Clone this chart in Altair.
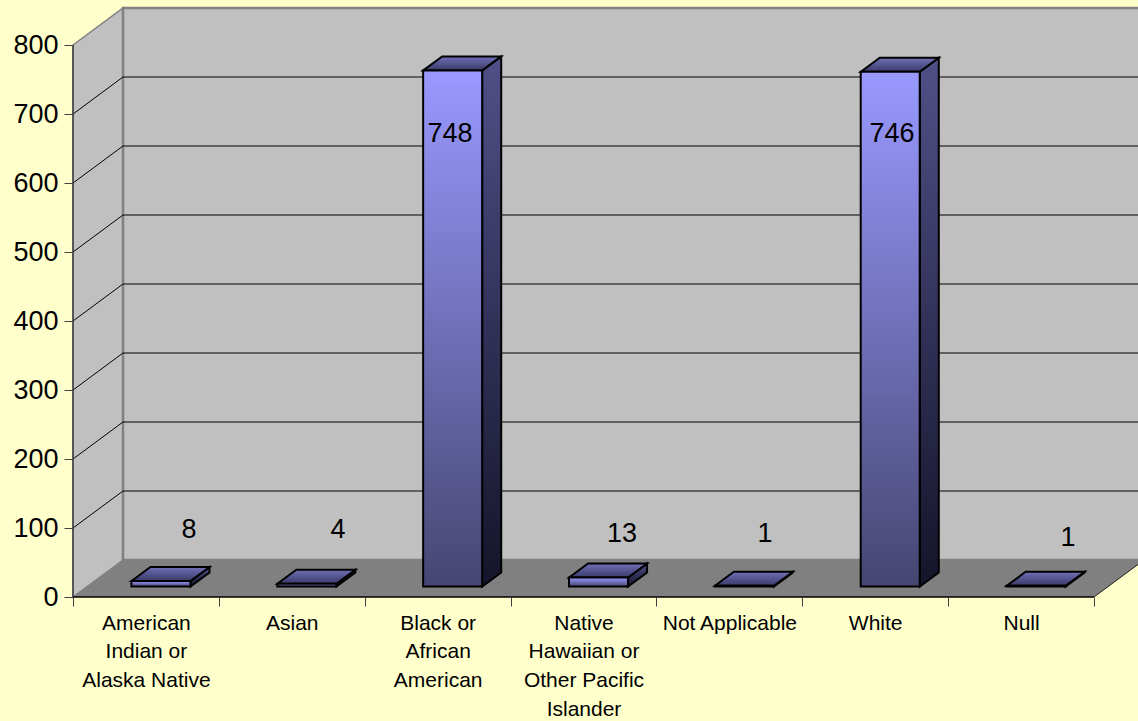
import altair as alt
import pandas as pd

# Chart values
categories = [
    "American|Indian or|Alaska Native",
    "Asian",
    "Black or|African|American",
    "Native|Hawaiian or|Other Pacific|Islander",
    "Not Applicable",
    "White",
    "Null",
]
counts = [8, 4, 748, 13, 1, 746, 1]
y_ticks = [0, 100, 200, 300, 400, 500, 600, 700, 800]

# Layout of the pseudo-3D box, in screen pixels
PLOT_W, PLOT_H = 1021, 589
LEFT, TOP, RIGHT, BOTTOM = 73, 8, 44, 124
PX_PER_UNIT = 552 / 800
STEP = PLOT_W / 7
WALL_DX, WALL_DY = 50, 37
BAR_W, BAR_LEFT = 59, 58.5
BAR_LIFT = 10.5
CAP_DX, CAP_DY = 19, 14
label_px_x = [189, 338, 450, 622, 765, 892, 1068]
label_px_y = [530, 530, 134, 534, 534, 134, 538]


def units(px):
    return px / PX_PER_UNIT


y_top = units(PLOT_H)
wall_lift = units(WALL_DY)
x_num = lambda: alt.X("x:Q", axis=None, scale=alt.Scale(domain=[0, PLOT_W], nice=False))
y_scale = alt.Scale(domain=[0, y_top], nice=False)
y_plain = lambda field="y": alt.Y(f"{field}:Q", axis=None, scale=y_scale)
y2_plain = alt.Y2("y2:Q")
value_axis = alt.Axis(
    orient="left",
    values=y_ticks,
    grid=False,
    domain=False,
    tickSize=9,
    tickColor="#404040",
    labelFontSize=27,
    labelColor="black",
    labelPadding=6,
    zindex=1,
)

# Walls and floor of the box
left_wall = pd.DataFrame(
    {"x": [0, WALL_DX], "y": [800, y_top], "y2": [0, wall_lift]}
)
back_wall = pd.DataFrame(
    {"x": [WALL_DX, PLOT_W + WALL_DX], "y": [y_top, y_top], "y2": [wall_lift, wall_lift]}
)
floor = pd.DataFrame(
    {
        "x": [0, WALL_DX, PLOT_W, PLOT_W + WALL_DX],
        "y": [0, wall_lift, wall_lift, wall_lift],
        "y2": [0, 0, 0, wall_lift],
    }
)


def area(df, y_enc=None, **style):
    return (
        alt.Chart(df)
        .mark_area(**style)
        .encode(x=x_num(), y=y_enc if y_enc is not None else y_plain(), y2=y2_plain)
    )


# Gridlines run along the left wall and across the back wall
grid_rows = []
for v in y_ticks[1:-1]:
    grid_rows += [
        {"level": v, "order": 0, "x": 0, "y": v},
        {"level": v, "order": 1, "x": WALL_DX, "y": v + wall_lift},
        {"level": v, "order": 2, "x": PLOT_W + WALL_DX, "y": v + wall_lift},
    ]
grid = (
    alt.Chart(pd.DataFrame(grid_rows))
    .mark_line(color="black", strokeWidth=1)
    .encode(x=x_num(), y=y_plain(), detail="level:N", order="order:Q")
)

# Front-left axis line, front floor edge and right floor edge
axis_line = (
    alt.Chart(pd.DataFrame({"x": [0], "y": [0], "y2": [800]}))
    .mark_rule(color="#404040", strokeWidth=1.5)
    .encode(x=x_num(), y=y_plain(), y2=y2_plain)
)
front_edge = (
    alt.Chart(pd.DataFrame({"x": [0], "x2": [PLOT_W], "y": [0]}))
    .mark_rule(color="black", strokeWidth=1.5)
    .encode(x=x_num(), x2="x2:Q", y=y_plain())
)
floor_edge = (
    alt.Chart(pd.DataFrame({"x": [PLOT_W, PLOT_W + WALL_DX], "y": [0, wall_lift]}))
    .mark_line(color="#202020", strokeWidth=1)
    .encode(x=x_num(), y=y_plain())
)

# Side and top faces of each column, derived from its value
side_rows, cap_rows = [], []
lift, cap_up = units(BAR_LIFT), units(CAP_DY)
for i, value in enumerate(counts):
    xl = BAR_LEFT + STEP * i
    xr = xl + BAR_W
    top = value + lift
    side_rows += [
        {"bar": i, "x": xr, "y": top, "y2": lift},
        {"bar": i, "x": xr + CAP_DX, "y": top + cap_up, "y2": lift + cap_up},
    ]
    cap_rows += [
        {"bar": i, "x": xl, "y": top, "y2": top},
        {"bar": i, "x": xl + CAP_DX, "y": top + cap_up, "y2": top},
        {"bar": i, "x": xr, "y": top + cap_up, "y2": top},
        {"bar": i, "x": xr + CAP_DX, "y": top + cap_up, "y2": top + cap_up},
    ]


def gradient(start, stop):
    return alt.Gradient(
        gradient="linear",
        x1=0, x2=0, y1=0, y2=1,
        stops=[
            alt.GradientStop(color=start, offset=0),
            alt.GradientStop(color=stop, offset=1),
        ],
    )


sides = (
    alt.Chart(pd.DataFrame(side_rows))
    .mark_area(fill=gradient("#505088", "#14142A"), stroke="black", strokeWidth=2)
    .encode(x=x_num(), y=y_plain(), y2=y2_plain, detail="bar:N")
)
caps = (
    alt.Chart(pd.DataFrame(cap_rows))
    .mark_area(fill=gradient("#7070B8", "#3A3A68"), stroke="black", strokeWidth=2)
    .encode(x=x_num(), y=y_plain(), y2=y2_plain, detail="bar:N")
)

# Front faces sit on the category band scale, which also draws the bottom axis
bars_df = pd.DataFrame({"category": categories, "count": counts})
fronts = (
    alt.Chart(bars_df)
    .mark_bar(
        size=BAR_W,
        xOffset=15,
        yOffset=-BAR_LIFT,
        fill=gradient("#9999FF", "#464672"),
        stroke="black",
        strokeWidth=2,
    )
    .encode(
        x=alt.X(
            "category:N",
            title=None,
            scale=alt.Scale(domain=categories, paddingInner=0, paddingOuter=0),
            axis=alt.Axis(
                orient="bottom",
                tickBand="extent",
                tickSize=9,
                tickColor="#404040",
                domain=False,
                labelAngle=0,
                labelExpr="split(datum.label, '|')",
                labelFontSize=21,
                labelColor="black",
                labelLineHeight=28.7,
                labelPadding=6,
                labelLimit=300,
                labelOverlap=False,
                labelBaseline="top",
                zindex=1,
            ),
        ),
        y=alt.Y("count:Q", title=None, scale=y_scale, axis=None),
    )
)

# Value labels
labels_df = pd.DataFrame(
    {
        "count": counts,
        "x": [p - LEFT for p in label_px_x],
        "y": [units(TOP + PLOT_H - p) for p in label_px_y],
    }
)
labels = (
    alt.Chart(labels_df)
    .mark_text(fontSize=27, color="black", align="center", baseline="middle")
    .encode(x=x_num(), y=y_plain(), text="count:Q")
)

chart = (
    alt.layer(
        area(
            left_wall,
            y_enc=alt.Y("y:Q", title=None, scale=y_scale, axis=value_axis),
            fill="#C0C0C0",
            stroke="#808080",
            strokeWidth=1.5,
        ),
        area(back_wall, fill="#C0C0C0", stroke="#808080", strokeWidth=2.5),
        area(floor, fill="#808080"),
        floor_edge,
        grid,
        axis_line,
        front_edge,
        sides,
        caps,
        fronts,
        labels,
    )
    .resolve_scale(x="independent")
    .resolve_axis(y="independent")
    .properties(
        width=PLOT_W,
        height=PLOT_H,
        background="#FFFFCC",
        padding={"left": LEFT, "top": TOP, "right": RIGHT, "bottom": BOTTOM},
        autosize=alt.AutoSizeParams(type="none"),
    )
    .configure(font="Liberation Sans")
    .configure_view(stroke=None)
)

chart.save("out.html", embed_options={"renderer": "svg", "actions": False})
